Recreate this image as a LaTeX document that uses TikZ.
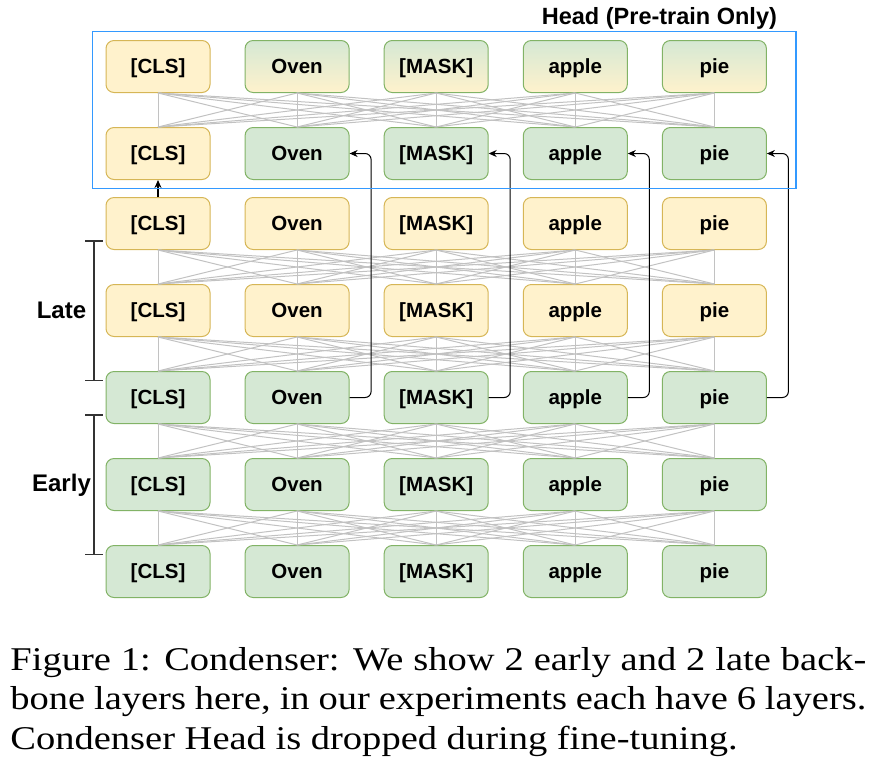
\documentclass[tikz,border=0pt]{standalone}
\usepackage{fontspec}
\newfontfamily\boxfont{Liberation Sans}
\newfontfamily\capfont[FakeStretch=1.16]{Liberation Serif}
\usetikzlibrary{arrows.meta}
\definecolor{ylwfill}{HTML}{FFF2CC}
\definecolor{ylwline}{HTML}{D6B656}
\definecolor{grnfill}{HTML}{D5E8D4}
\definecolor{grnline}{HTML}{82B366}
\definecolor{headblue}{HTML}{3399FF}
\definecolor{linkgray}{HTML}{C2C2C2}

\begin{document}
\begin{tikzpicture}[x=0.5pt,y=-0.5pt,every node/.style={font={\boxfont\bfseries\fontsize{10.25}{12}\selectfont}},
  token/.style={rounded corners=4pt,minimum width=52pt,minimum height=26pt,inner sep=0pt,text height=7.4pt,text depth=0pt,line width=0.5pt},
  ylw/.style={token,fill=ylwfill,draw=ylwline},
  grn/.style={token,fill=grnfill,draw=grnline},
  mix/.style={token,top color=grnfill,bottom color=ylwfill,draw=grnline},
  link/.style={linkgray,line width=0.5pt},
  skip/.style={black,line width=0.5pt,rounded corners=3pt,-{Stealth[length=4pt,width=3.5pt]}},
  bracket/.style={black!80,line width=0.6pt}]
\useasboundingbox (0,0) rectangle (884,783);

% token rows, top (head) to bottom (early)
\foreach \r/\y/\sa/\sb in {1/66.5/ylw/mix,2/153.5/ylw/grn,3/223.5/ylw/ylw,4/310.5/ylw/ylw,5/397.5/grn/grn,6/484.5/grn/grn,7/571.5/grn/grn}
  \foreach \w [count=\c] in {{[CLS]},Oven,{[MASK]},apple,pie}{
    \ifnum\c=1 \def\s{\sa}\else\def\s{\sb}\fi
    \node[\s] (n\r-\c) at ({158+139.1*(\c-1)},\y) {\w};
  }

% all-to-all links between layers
\foreach \a/\b in {1/2,3/4,4/5,5/6,6/7}
  \foreach \i in {1,...,5}
    \foreach \j in {1,...,5}
      \draw[link] (n\a-\i.south) -- (n\b-\j.north);

% skip connections into the head
\foreach \c in {2,...,5}
  \draw[skip] (n5-\c.east) -- ++(21.5,0) |- (n2-\c.east);
\draw[black,line width=0.75pt,-{Stealth[length=4pt,width=3.5pt]}] (n3-1.north) -- (n2-1.south);

% head box
\draw[headblue,line width=0.6pt] (92.5,31.5) rectangle (796,188.5);
\node[anchor=east,font={\boxfont\bfseries\fontsize{11.75}{14}\selectfont}] (head) at (784,18) {Head (Pre-train Only)};

% late / early brackets
\draw[bracket] (85,241) -- (103,241) (94,241) -- (94,380.5) (85,380.5) -- (103,380.5);
\draw[bracket] (85,415) -- (103,415) (94,415) -- (94,554.5) (85,554.5) -- (103,554.5);
\node[font={\boxfont\bfseries\fontsize{12}{14}\selectfont}] (late) at (61.5,310.5) {Late};
\node[font={\boxfont\bfseries\fontsize{12}{14}\selectfont}] (early) at (61.5,485) {Early};

\node[anchor=base west,inner sep=0pt,text width=428pt,align=justify,font={\capfont\fontsize{16.6}{19.75}\selectfont}] (caption) at (10,670)
  {Figure 1: Condenser: We show 2 early and 2 late back-\linebreak bone layers here, in our experiments each have 6 layers.\linebreak Condenser Head is dropped during fine-tuning.};
\end{tikzpicture}
\end{document}
